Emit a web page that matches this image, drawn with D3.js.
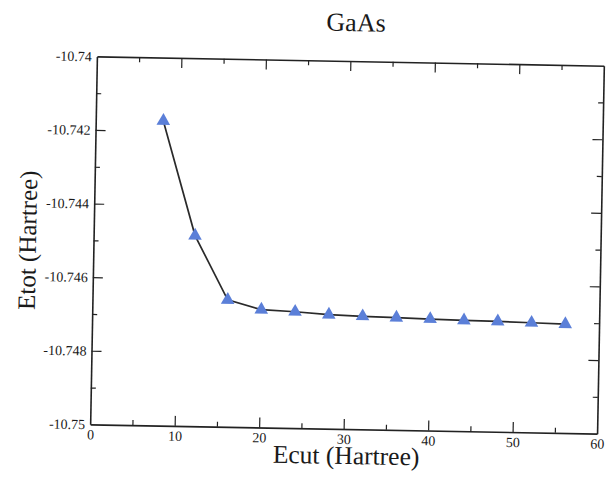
<!DOCTYPE html>
<html>
<head>
<meta charset="utf-8">
<script src="https://cdn.jsdelivr.net/npm/d3@7"></script>
<style>
  body { margin: 0; background: #fff; }
</style>
</head>
<body>
<svg id="chart"></svg>
<script>
// Data
const ecut = [8, 12, 16, 20, 24, 28, 32, 36, 40, 44, 48, 52, 56];
const etot = [-10.74172, -10.74482, -10.74655, -10.74680, -10.74684, -10.74690, -10.74693,
              -10.74695, -10.74697, -10.74699, -10.74700, -10.74702, -10.74704];
const xTicks = [0, 10, 20, 30, 40, 50, 60];
const yTicks = [-10.75, -10.748, -10.746, -10.744, -10.742, -10.74];

// Graph constants
const width = 607;
const height = 477;
const margin = { top: 61, right: 6.5, bottom: 48, left: 93.5 };
const tilt = 1.05; // the scan is slightly rotated
const serif = "'Liberation Serif', 'Times New Roman', 'DejaVu Serif', serif";

const xScale = d3.scaleLinear().domain([0, 60]).range([margin.left, width - margin.right]);
const yScale = d3.scaleLinear().domain([-10.75, -10.74]).range([height - margin.bottom, margin.top]);

const svg = d3.select("#chart")
    .attr("width", width)
    .attr("height", height);

const cx = (margin.left + width - margin.right) / 2;
const cy = (margin.top + height - margin.bottom) / 2;
const g = svg.append("g")
    .attr("transform", `rotate(${tilt},${cx},${cy})`);

// Axes (ticks inward on all four sides)
const fmt = d => String(+d.toFixed(3)); // plain hyphen, like the original
const isMajorY = d => yTicks.some(t => Math.abs(t - d) < 1e-9);
const xMinor = d3.range(0, 61, 5);
const yMinor = d3.range(0, 11).map(i => -10.75 + i * 0.001);

function drawTicks(axisGen, transform) {
    const ax = g.append("g").attr("transform", transform);
    ax.call(axisGen);
    ax.attr("font-family", serif).attr("font-size", 14);
    ax.select(".domain").attr("stroke", "#222").attr("stroke-width", 1.6);
    ax.selectAll(".tick line").attr("stroke", "#222").attr("stroke-width", 1.2);
    ax.selectAll(".tick text").attr("font-family", serif).attr("font-size", 14).attr("fill", "#1a1a1a");
    return ax;
}

// bottom
const axBottom = drawTicks(d3.axisBottom(xScale).tickValues(xMinor).tickSizeOuter(0)
        .tickFormat(d => xTicks.includes(d) ? d : ""),
    `translate(0,${yScale(-10.75)})`);
axBottom.selectAll(".tick line").attr("y2", d => xTicks.includes(d) ? -10 : -5);
axBottom.selectAll(".tick text").attr("y", 5);
axBottom.selectAll(".tick").filter(d => d === 0 || d === 60).select("line").remove();

// top
const axTop = drawTicks(d3.axisTop(xScale).tickValues(xMinor).tickSizeOuter(0).tickFormat(""),
    `translate(0,${yScale(-10.74)})`);
axTop.selectAll(".tick line").attr("y2", d => xTicks.includes(d) ? 10 : 5);
axTop.selectAll(".tick").filter(d => d === 0 || d === 60).select("line").remove();

// left
const axLeft = drawTicks(d3.axisLeft(yScale).tickValues(yMinor).tickSizeOuter(0)
        .tickFormat(d => isMajorY(d) ? fmt(d) : ""),
    `translate(${xScale(0)},0)`);
axLeft.selectAll(".tick line").attr("x2", d => isMajorY(d) ? 10 : 5);
axLeft.selectAll(".tick text").attr("x", -5);
axLeft.selectAll(".tick").filter((d, i) => i === 0 || i === 10).select("line").remove();

// right
const axRight = drawTicks(d3.axisRight(yScale).tickValues(yMinor).tickSizeOuter(0).tickFormat(""),
    `translate(${xScale(60)},0)`);
axRight.selectAll(".tick line").attr("x2", d => isMajorY(d) ? -10 : -5);
axRight.selectAll(".tick").filter((d, i) => i === 0 || i === 10).select("line").remove();

// Line
const line = d3.line().x((d, i) => xScale(ecut[i])).y(d => yScale(d));
g.append("path")
    .datum(etot)
    .attr("d", line)
    .attr("fill", "none")
    .attr("stroke", "#2a2a2a")
    .attr("stroke-width", 1.7);

// Triangles
g.append("g")
    .selectAll("path")
    .data(etot)
    .join("path")
    .attr("transform", (d, i) => `translate(${xScale(ecut[i])},${yScale(d)})`)
    .attr("d", d3.symbol(d3.symbolTriangle, 80))
    .attr("fill", "#5b7fd8");

// Labels
g.append("text")
    .attr("x", 352)
    .attr("y", 31)
    .attr("text-anchor", "middle")
    .attr("font-family", serif)
    .attr("font-size", 26)
    .attr("fill", "#1a1a1a")
    .text("GaAs");

g.append("text")
    .attr("x", 350)
    .attr("y", 464)
    .attr("text-anchor", "middle")
    .attr("font-family", serif)
    .attr("font-size", 25.5)
    .attr("fill", "#1a1a1a")
    .text("Ecut (Hartree)");

g.append("text")
    .attr("transform", `translate(36,246) rotate(-90)`)
    .attr("text-anchor", "middle")
    .attr("font-family", serif)
    .attr("font-size", 25)
    .attr("fill", "#1a1a1a")
    .text("Etot (Hartree)");
</script>
</body>
</html>
